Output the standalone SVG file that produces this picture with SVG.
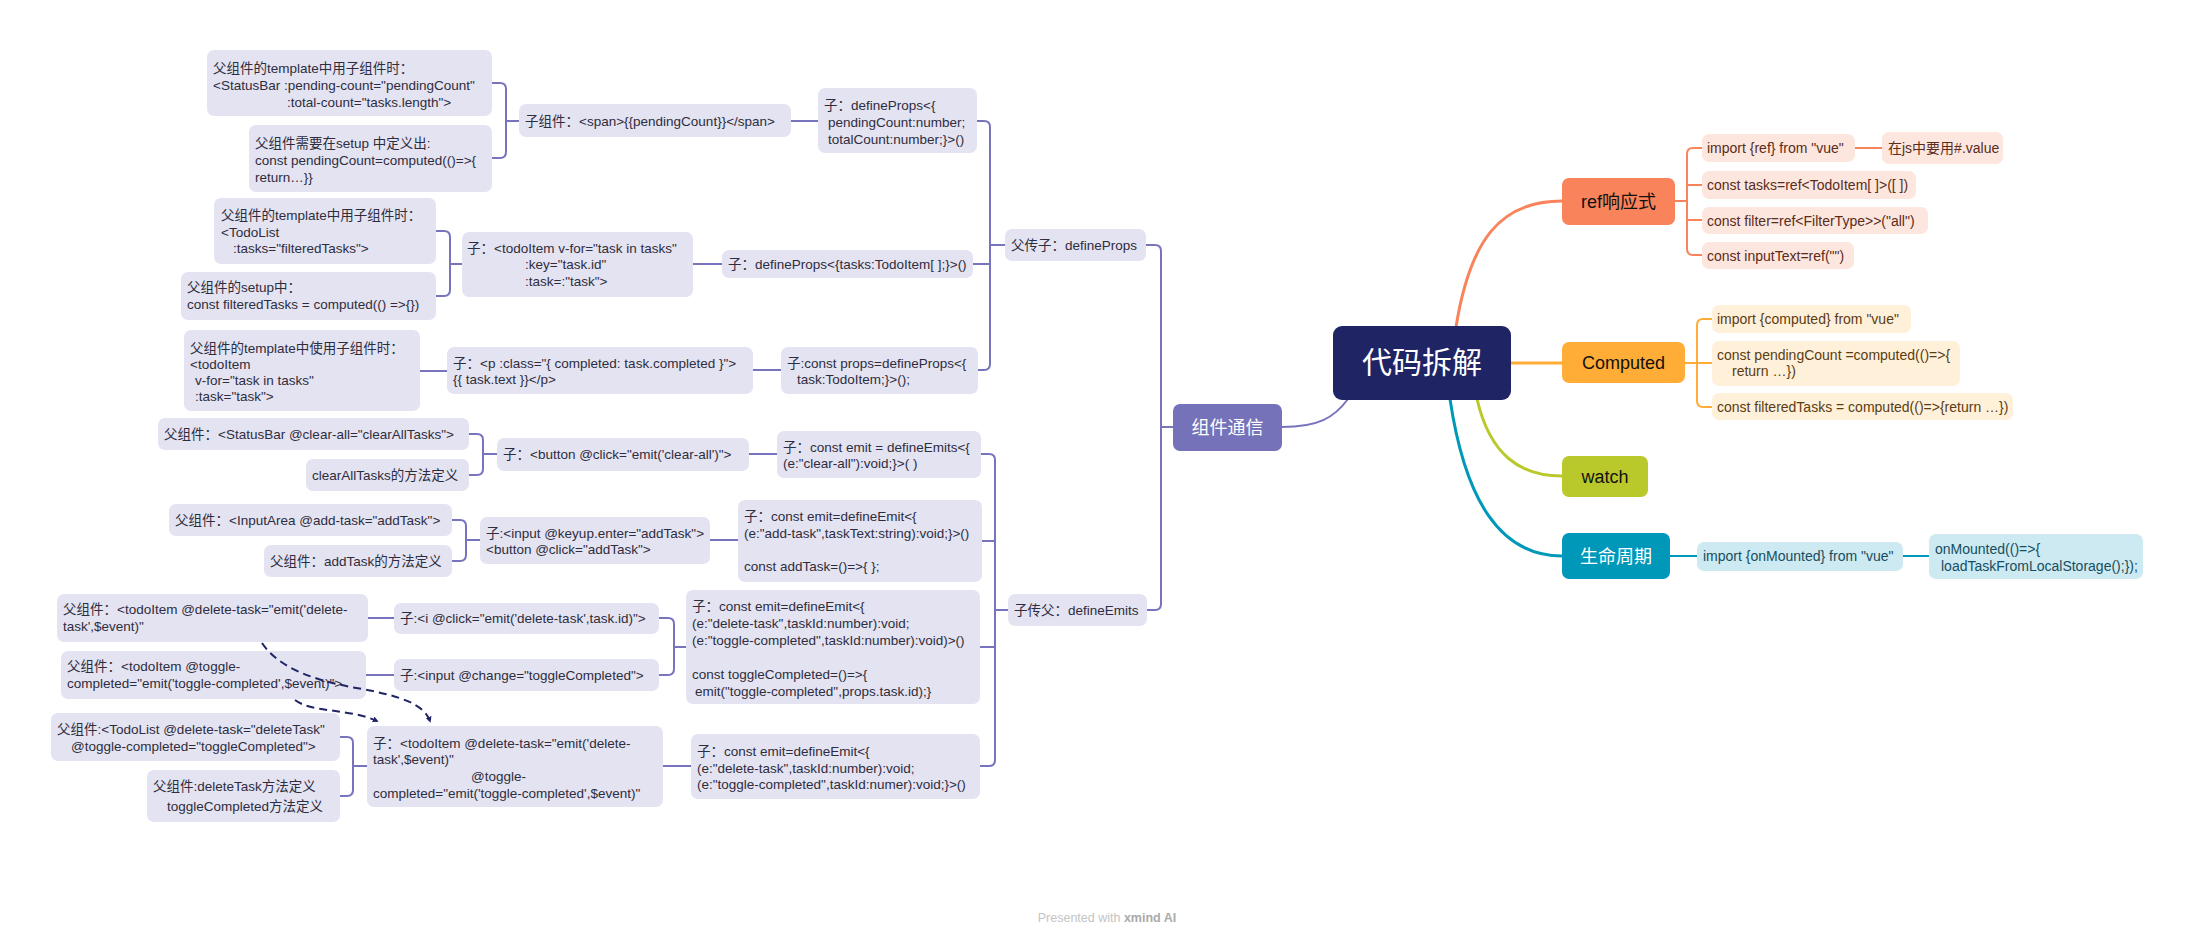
<svg xmlns="http://www.w3.org/2000/svg" width="2194" height="943" viewBox="0 0 2194 943">
<defs>
<style>
.n{fill:#e4e3f2}
.t{font-family:"Liberation Sans","Noto Sans CJK SC",sans-serif;font-size:13.5px;fill:#2e2d3d}
.c{fill:none;stroke:#7774bd;stroke-width:2}
.b{font-family:"Liberation Sans","Noto Sans CJK SC",sans-serif;font-size:18px;text-anchor:middle}
.ro{fill:#fde6dd}.rt{font-family:"Liberation Sans","Noto Sans CJK SC",sans-serif;font-size:14px;fill:#5a2c1c}
.co{fill:#fff0da}.ct{font-family:"Liberation Sans","Noto Sans CJK SC",sans-serif;font-size:14px;fill:#5a3d12}
.lo{fill:#cde9f1}.lt{font-family:"Liberation Sans","Noto Sans CJK SC",sans-serif;font-size:14px;fill:#164e5f}
.d{fill:none;stroke:#1f2464;stroke-width:2;stroke-dasharray:8 5}
</style>
<marker id="ah" viewBox="0 0 10 10" refX="7" refY="5" markerWidth="6" markerHeight="6" orient="auto" markerUnits="userSpaceOnUse"><path d="M0,0 L10,5 L0,10 z" fill="#1f2464"/></marker>
</defs>
<rect width="2194" height="943" fill="#ffffff"/>

<g id="connectors">
<path class="c" d="M492,83 H500 Q506,83 506,89 V152 Q506,158 500,158 H492 M506,121 H519"/>
<path class="c" d="M791,121 H818"/>
<path class="c" d="M977,121 H984 Q990,121 990,127 V364 Q990,370 984,370 H978 M973,264 H990 M990,245 H1005"/>
<path class="c" d="M436,231 H444 Q450,231 450,237 V290 Q450,296 444,296 H436 M450,264 H462"/>
<path class="c" d="M693,264 H722"/>
<path class="c" d="M420,371 H447 M753,370 H781"/>
<path class="c" d="M1146,245 H1155 Q1161,245 1161,251 V604 Q1161,610 1155,610 H1147 M1161,427 H1173"/>
<path class="c" d="M469,434 H477 Q483,434 483,440 V469 Q483,475 477,475 H469 M483,454 H497"/>
<path class="c" d="M749,454 H777"/>
<path class="c" d="M981,454 H989 Q995,454 995,460 V760 Q995,766 989,766 H980 M982,541 H995 M980,647 H995 M995,610 H1008"/>
<path class="c" d="M452,520 H460 Q466,520 466,526 V555 Q466,561 460,561 H452 M466,540 H480"/>
<path class="c" d="M710,540 H738"/>
<path class="c" d="M368,618 H394 M366,675 H394"/>
<path class="c" d="M659,618 H668 Q674,618 674,624 V669 Q674,675 668,675 H659 M674,647 H686"/>
<path class="c" d="M340,737 H347 Q353,737 353,743 V790 Q353,796 347,796 H340 M353,766 H367"/>
<path class="c" d="M663,766 H691"/>
<path class="c" d="M1282,427 C1318,427 1334,418 1348,399" stroke-width="3"/>
<path d="M1456,327 C1470,240 1500,201 1562,201" fill="none" stroke="#f9835b" stroke-width="3"/>
<path d="M1511,363 H1562" fill="none" stroke="#ffad37" stroke-width="3"/>
<path d="M1477,399 C1490,455 1520,476 1562,476" fill="none" stroke="#b9c92b" stroke-width="3"/>
<path d="M1450,399 C1465,500 1500,556 1562,556" fill="none" stroke="#0098b9" stroke-width="3"/>
<path d="M1675,201 H1687 M1702,148 H1693 Q1687,148 1687,154 V249 Q1687,255 1693,255 H1702 M1687,185 H1702 M1687,220 H1702 M1855,148 H1882" fill="none" stroke="#f9835b" stroke-width="2"/>
<path d="M1685,363 H1712 M1712,319 H1703 Q1697,319 1697,325 V401 Q1697,407 1703,407 H1712" fill="none" stroke="#ffad37" stroke-width="2"/>
<path d="M1670,556 H1697 M1903,556 H1929" fill="none" stroke="#0098b9" stroke-width="2"/>
</g>

<g id="center"><rect x="1333" y="326" width="178" height="74" rx="9" fill="#1f2464"/><text x="1422" y="373" font-family="Liberation Sans,Noto Sans CJK SC,sans-serif" font-size="30" fill="#ffffff" text-anchor="middle">代码拆解</text></g>
<g id="zujian"><rect x="1173" y="404" width="109" height="47" rx="7" fill="#7572b9"/><text class="b" x="1227.5" y="434" fill="#ffffff">组件通信</text></g>
<g id="ref"><rect x="1562" y="178" width="113" height="47" rx="7" fill="#f9835b"/><text class="b" x="1618.5" y="208" fill="#111">ref响应式</text></g>
<g id="computed"><rect x="1562" y="342" width="123" height="41" rx="7" fill="#ffad37"/><text class="b" x="1623.5" y="369" fill="#111">Computed</text></g>
<g id="watch"><rect x="1562" y="456" width="86" height="41" rx="7" fill="#b9c92b"/><text class="b" x="1605" y="482.5" fill="#111">watch</text></g>
<g id="life"><rect x="1562" y="533" width="108" height="46" rx="7" fill="#0098b9"/><text class="b" x="1616" y="562.5" fill="#ffffff">生命周期</text></g>

<g id="r1"><rect class="ro" x="1702" y="134" width="153" height="28" rx="7"/><text class="rt" x="1707" y="153">import {ref} from "vue"</text></g>
<g id="r1a"><rect class="ro" x="1882" y="132" width="121" height="32" rx="7"/><text class="rt" x="1888" y="153">在js中要用#.value</text></g>
<g id="r2"><rect class="ro" x="1702" y="171" width="214" height="28" rx="7"/><text class="rt" x="1707" y="190">const tasks=ref&lt;TodoItem[ ]&gt;([ ])</text></g>
<g id="r3"><rect class="ro" x="1702" y="207" width="226" height="27" rx="7"/><text class="rt" x="1707" y="225.5">const filter=ref&lt;FilterType&gt;&gt;("all")</text></g>
<g id="r4"><rect class="ro" x="1702" y="242" width="152" height="27" rx="7"/><text class="rt" x="1707" y="260.5">const inputText=ref("")</text></g>

<g id="c1"><rect class="co" x="1712" y="305" width="199" height="28" rx="7"/><text class="ct" x="1717" y="324">import {computed} from "vue"</text></g>
<g id="c2"><rect class="co" x="1712" y="341" width="248" height="45" rx="7"/><text class="ct"><tspan x="1717" y="360">const pendingCount =computed(()=&gt;{</tspan><tspan x="1732" y="376">return …})</tspan></text></g>
<g id="c3"><rect class="co" x="1712" y="393" width="301" height="27" rx="7"/><text class="ct" x="1717" y="411.5">const filteredTasks = computed(()=&gt;{return …})</text></g>

<g id="l1"><rect class="lo" x="1697" y="542" width="206" height="29" rx="7"/><text class="lt" x="1703" y="561">import {onMounted} from "vue"</text></g>
<g id="l2"><rect class="lo" x="1929" y="534" width="214" height="45" rx="7"/><text class="lt"><tspan x="1935" y="553.5">onMounted(()=&gt;{</tspan><tspan x="1941" y="570.5">loadTaskFromLocalStorage();});</tspan></text></g>

<g id="a1"><rect class="n" x="207" y="50" width="285" height="66" rx="7"/><text class="t"><tspan x="213" y="72.5">父组件的template中用子组件时：</tspan><tspan x="213" y="89.5">&lt;StatusBar :pending-count="pendingCount"</tspan><tspan x="287" y="106.5">:total-count="tasks.length"&gt;</tspan></text></g>
<g id="a2"><rect class="n" x="249" y="125" width="243" height="67" rx="7"/><text class="t"><tspan x="255" y="147.5">父组件需要在setup 中定义出:</tspan><tspan x="255" y="164.5">const pendingCount=computed(()=&gt;{</tspan><tspan x="255" y="181.5">return…}}</tspan></text></g>
<g id="b1"><rect class="n" x="519" y="104" width="272" height="33" rx="7"/><text class="t" x="525" y="125.5">子组件：&lt;span&gt;{{pendingCount}}&lt;/span&gt;</text></g>
<g id="cp1"><rect class="n" x="818" y="88" width="159" height="65" rx="7"/><text class="t"><tspan x="824" y="109.5">子：defineProps&lt;{</tspan><tspan x="828" y="126.5">pendingCount:number;</tspan><tspan x="828" y="143.5">totalCount:number;}&gt;()</tspan></text></g>
<g id="d1"><rect class="n" x="214" y="198" width="222" height="66" rx="7"/><text class="t"><tspan x="221" y="220">父组件的template中用子组件时：</tspan><tspan x="221" y="236.5">&lt;TodoList</tspan><tspan x="233" y="253">:tasks="filteredTasks"&gt;</tspan></text></g>
<g id="d2"><rect class="n" x="181" y="272" width="255" height="48" rx="7"/><text class="t"><tspan x="187" y="292">父组件的setup中：</tspan><tspan x="187" y="309">const filteredTasks = computed(() =&gt;{})</tspan></text></g>
<g id="e1"><rect class="n" x="462" y="232" width="231" height="65" rx="7"/><text class="t"><tspan x="467" y="252.5">子：&lt;todoItem v-for="task in tasks"</tspan><tspan x="525" y="269">:key="task.id"</tspan><tspan x="525" y="285.5">:task=:"task"&gt;</tspan></text></g>
<g id="f1"><rect class="n" x="722" y="250" width="251" height="28" rx="7"/><text class="t" x="728" y="268.5">子：defineProps&lt;{tasks:TodoItem[ ];}&gt;()</text></g>
<g id="fuchuanzi"><rect class="n" x="1005" y="229" width="141" height="32" rx="7"/><text class="t" x="1011" y="249.5">父传子：defineProps</text></g>
<g id="h1"><rect class="n" x="184" y="330" width="236" height="81" rx="7"/><text class="t"><tspan x="190" y="352.5">父组件的template中使用子组件时：</tspan><tspan x="190" y="368.5">&lt;todoItem</tspan><tspan x="195" y="384.5">v-for="task in tasks"</tspan><tspan x="195" y="400.5">:task="task"&gt;</tspan></text></g>
<g id="g2"><rect class="n" x="447" y="347" width="306" height="47" rx="7"/><text class="t"><tspan x="453" y="367.5">子：&lt;p :class="{ completed: task.completed }"&gt;</tspan><tspan x="453" y="384">{{ task.text }}&lt;/p&gt;</tspan></text></g>
<g id="g1"><rect class="n" x="781" y="347" width="197" height="47" rx="7"/><text class="t"><tspan x="787" y="367.5">子:const props=defineProps&lt;{</tspan><tspan x="797" y="384">task:TodoItem;}&gt;();</tspan></text></g>
<g id="zichuanfu"><rect class="n" x="1008" y="594" width="139" height="32" rx="7"/><text class="t" x="1014" y="614.5">子传父：defineEmits</text></g>

<g id="i1"><rect class="n" x="158" y="418" width="311" height="32" rx="7"/><text class="t" x="164" y="438.5">父组件：&lt;StatusBar @clear-all="clearAllTasks"&gt;</text></g>
<g id="i2"><rect class="n" x="306" y="459" width="163" height="32" rx="7"/><text class="t" x="312" y="479.5">clearAllTasks的方法定义</text></g>
<g id="j1"><rect class="n" x="497" y="438" width="252" height="33" rx="7"/><text class="t" x="503" y="459">子：&lt;button @click="emit('clear-all')"&gt;</text></g>
<g id="k1"><rect class="n" x="777" y="431" width="204" height="47" rx="7"/><text class="t"><tspan x="783" y="451.5">子：const emit = defineEmits&lt;{</tspan><tspan x="783" y="468">(e:"clear-all"):void;}&gt;( )</tspan></text></g>
<g id="lf1"><rect class="n" x="169" y="504" width="283" height="32" rx="7"/><text class="t" x="175" y="524.5">父组件：&lt;InputArea @add-task="addTask"&gt;</text></g>
<g id="lf2"><rect class="n" x="264" y="545" width="188" height="32" rx="7"/><text class="t" x="270" y="565.5">父组件：addTask的方法定义</text></g>
<g id="m1"><rect class="n" x="480" y="517" width="230" height="47" rx="7"/><text class="t"><tspan x="486" y="537.5">子:&lt;input @keyup.enter="addTask"&gt;</tspan><tspan x="486" y="554">&lt;button @click="addTask"&gt;</tspan></text></g>
<g id="n1"><rect class="n" x="738" y="500" width="244" height="82" rx="7"/><text class="t"><tspan x="744" y="520.5">子：const emit=defineEmit&lt;{</tspan><tspan x="744" y="537.5">(e:"add-task",taskText:string):void;}&gt;()</tspan><tspan x="744" y="571">const addTask=()=&gt;{  };</tspan></text></g>
<g id="o1"><rect class="n" x="57" y="594" width="311" height="48" rx="7"/><text class="t"><tspan x="63" y="614">父组件：&lt;todoItem @delete-task="emit('delete-</tspan><tspan x="63" y="631">task',$event)"</tspan></text></g>
<g id="o2"><rect class="n" x="61" y="651" width="305" height="48" rx="7"/><text class="t"><tspan x="67" y="671">父组件：&lt;todoItem @toggle-</tspan><tspan x="67" y="688">completed="emit('toggle-completed',$event)"&gt;</tspan></text></g>
<g id="p1"><rect class="n" x="394" y="603" width="265" height="31" rx="7"/><text class="t" x="400" y="623">子:&lt;i @click="emit('delete-task',task.id)"&gt;</text></g>
<g id="p2"><rect class="n" x="394" y="659" width="265" height="32" rx="7"/><text class="t" x="400" y="679.5">子:&lt;input @change="toggleCompleted"&gt;</text></g>
<g id="q1"><rect class="n" x="686" y="590" width="294" height="114" rx="7"/><text class="t"><tspan x="692" y="610.5">子：const emit=defineEmit&lt;{</tspan><tspan x="692" y="627.5">(e:"delete-task",taskId:number):void;</tspan><tspan x="692" y="644.5">(e:"toggle-completed",taskId:number):void)&gt;()</tspan><tspan x="692" y="678.5">const toggleCompleted=()=&gt;{</tspan><tspan x="695" y="695.5">emit("toggle-completed",props.task.id);}</tspan></text></g>
<g id="rr1"><rect class="n" x="51" y="713" width="289" height="48" rx="7"/><text class="t"><tspan x="57" y="733.5">父组件:&lt;TodoList @delete-task="deleteTask"</tspan><tspan x="71" y="750.5">@toggle-completed="toggleCompleted"&gt;</tspan></text></g>
<g id="rr2"><rect class="n" x="147" y="770" width="193" height="52" rx="7"/><text class="t"><tspan x="153" y="791">父组件:deleteTask方法定义</tspan><tspan x="167" y="811">toggleCompleted方法定义</tspan></text></g>
<g id="s1"><rect class="n" x="367" y="726" width="296" height="81" rx="7"/><text class="t"><tspan x="373" y="747.5">子：&lt;todoItem @delete-task="emit('delete-</tspan><tspan x="373" y="764">task',$event)"</tspan><tspan x="471" y="781">@toggle-</tspan><tspan x="373" y="797.5">completed="emit('toggle-completed',$event)"</tspan></text></g>
<g id="t1"><rect class="n" x="691" y="734" width="289" height="65" rx="7"/><text class="t"><tspan x="697" y="755.5">子：const emit=defineEmit&lt;{</tspan><tspan x="697" y="772.5">(e:"delete-task",taskId:number):void;</tspan><tspan x="697" y="789">(e:"toggle-completed",taskId:numer):void;}&gt;()</tspan></text></g>

<g id="dashed">
<path class="d" d="M262,643 C280,670 320,682 362,689 C400,696 424,704 430,721" marker-end="url(#ah)"/>
<path class="d" d="M295,700 C312,713 348,708 377,721" marker-end="url(#ah)"/>
</g>

<text x="1107" y="922" text-anchor="middle" font-family="Liberation Sans,sans-serif" font-size="12.5" fill="#c4c4c4">Presented with <tspan font-weight="bold" fill="#aaaaaa">xmind AI</tspan></text>
</svg>
